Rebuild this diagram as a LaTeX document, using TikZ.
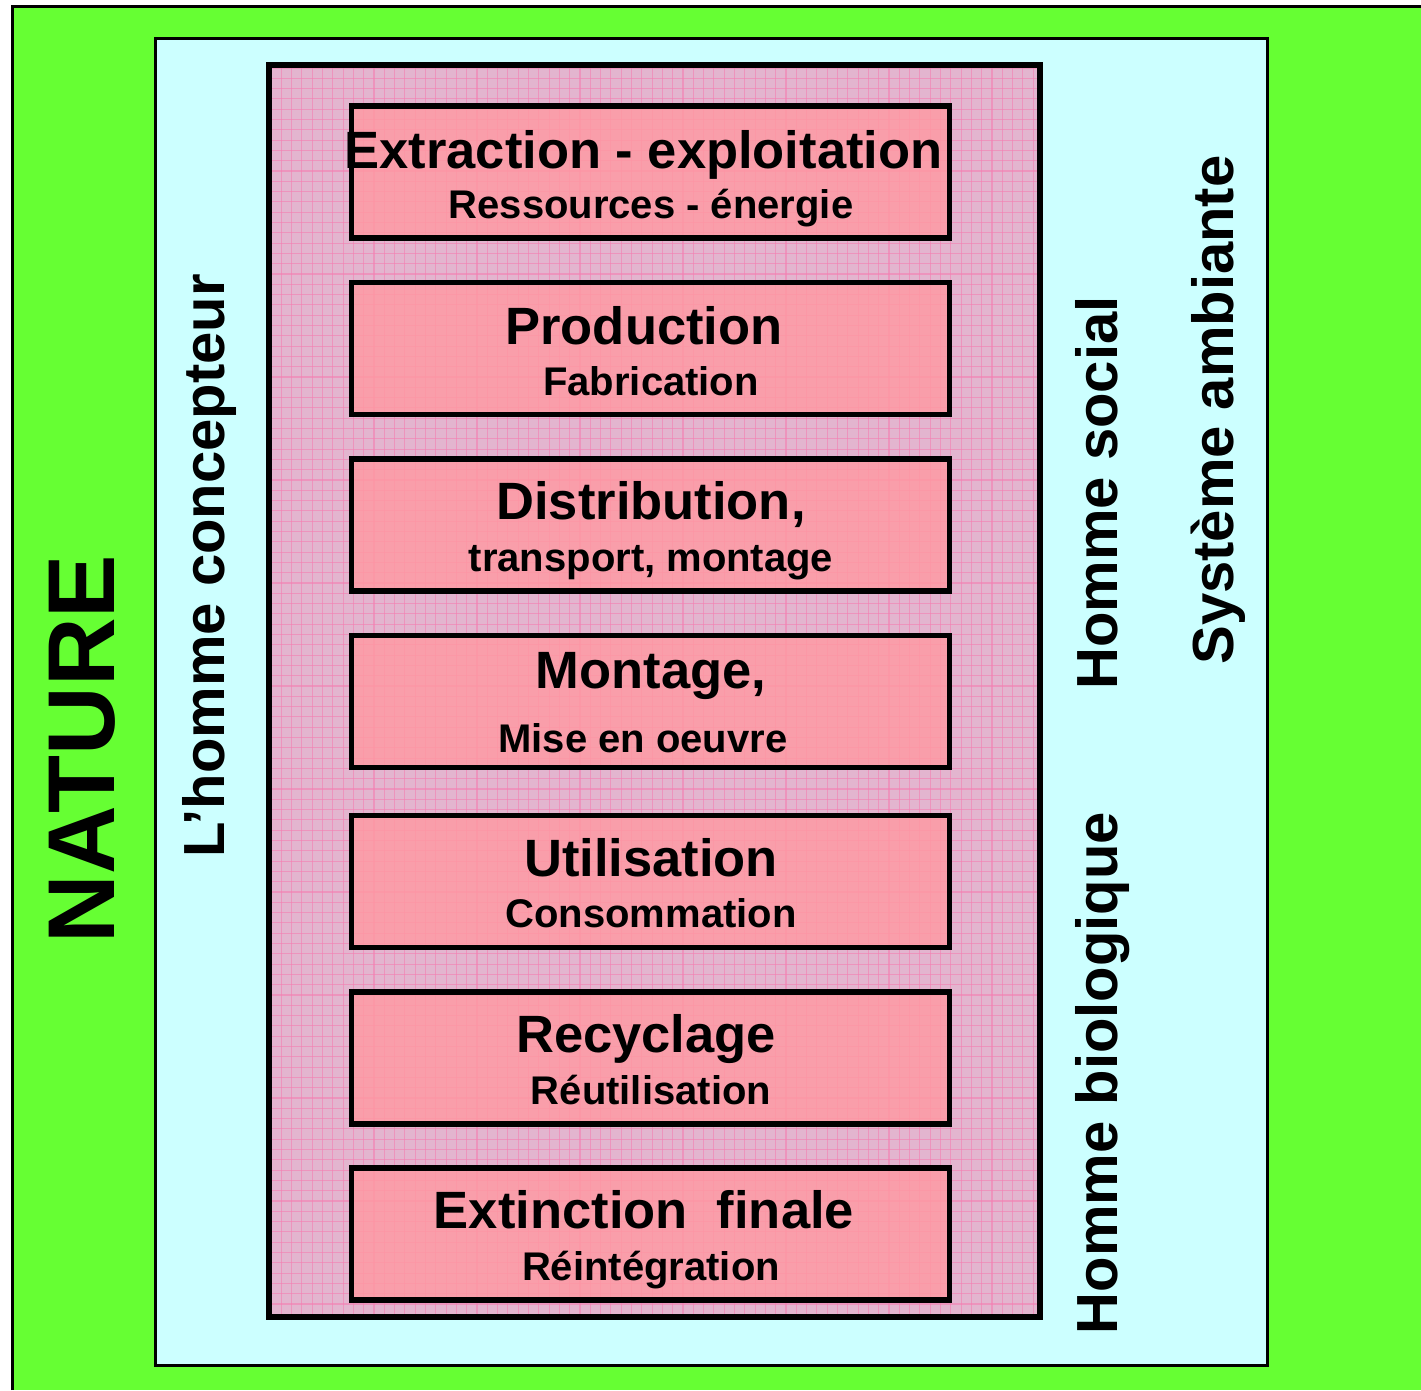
\documentclass[tikz,border=0pt]{standalone}
\usepackage{fontspec}
\setmainfont{Liberation Sans}
\definecolor{natgreen}{HTML}{66FF33}
\definecolor{ambcyan}{HTML}{CCFFFF}
\definecolor{regbase}{HTML}{E3B5CF}
\definecolor{gridpink}{HTML}{F57FB2}
\definecolor{boxpink}{HTML}{FF99A1}
\tikzset{
  gridline/.style={draw=gridpink, line width=1.1pt, opacity=0.6},
  stagebox/.style={draw=black, line width=5.5pt, fill=boxpink, fill opacity=0.8,
    minimum width=598pt, minimum height=132pt, inner sep=0pt, rectangle},
  maintxt/.style={anchor=base, inner sep=0pt, font=\fontsize{52.5}{56}\selectfont\bfseries},
  subtxt/.style={anchor=base, inner sep=0pt, font=\fontsize{40}{44}\selectfont\bfseries},
  sidetxt/.style={anchor=base, inner sep=0pt, rotate=90, font=\fontsize{58}{62}\selectfont\bfseries},
  bigtxt/.style={anchor=base, inner sep=0pt, rotate=90, font=\fontsize{95}{99}\selectfont\bfseries}
}
\begin{document}
\begin{tikzpicture}[x=1pt,y=-1pt]
\useasboundingbox (0,0) rectangle (1421,1390);
\fill[white] (0,0) rectangle (1421,1390);
% nature
\fill[natgreen] (12,6) rectangle (1421,1390);
\draw[line width=3pt] (12,1390) -- (12,6) -- (1421,6);
% ambient system
\draw[fill=ambcyan, line width=3pt] (155,38) rectangle (1267,1365);
% pink region
\fill[regbase] (269,65) rectangle (1040,1317);
\begin{scope}
  \clip (269,65) rectangle (1040,1317);
  \foreach \i in {0,...,75} \draw[gridline] ({271+\i*10.3},60) -- ++(0,1265);
  \foreach \j in {0,...,123} \draw[gridline] (265,{68+\j*10.3}) -- ++(780,0);
\end{scope}
\draw[line width=6pt] (269,65) rectangle (1040,1317);
% stage boxes
\node[stagebox] (b1) at (650.5,172) {};
\node[stagebox] (b2) at (650.5,348.5) {};
\node[stagebox] (b3) at (650.5,525) {};
\node[stagebox] (b4) at (650.5,701.5) {};
\node[stagebox] (b5) at (650.5,881.5) {};
\node[stagebox] (b6) at (650.5,1058) {};
\node[stagebox] (b7) at (650.5,1234) {};
% texts in boxes
\node[maintxt] (t1a) at (643.5,168) {Extraction - exploitation};
\node[subtxt]  (t1b) at (651,218) {Ressources - énergie};
\node[maintxt] (t2a) at (644,344) {Production};
\node[subtxt]  (t2b) at (651,395) {Fabrication};
\node[maintxt] (t3a) at (651,519) {Distribution,};
\node[subtxt]  (t3b) at (651,571) {transport, montage};
\node[maintxt] (t4a) at (651,688) {Montage,};
\node[subtxt]  (t4b) at (643,752) {Mise en oeuvre};
\node[maintxt] (t5a) at (651,876) {Utilisation};
\node[subtxt]  (t5b) at (651,927) {Consommation};
\node[maintxt] (t6a) at (646,1052) {Recyclage};
\node[subtxt]  (t6b) at (651,1104) {Réutilisation};
\node[maintxt] (t7a) at (644,1228) {Extinction\ \ finale};
\node[subtxt]  (t7b) at (651,1280) {Réintégration};
% side texts
\node[bigtxt]  (nat) at (114,749) {NATURE};
\node[sidetxt] (conc) at (224,566) {L’homme concepteur};
\node[sidetxt] (soc) at (1117,493) {Homme social};
\node[sidetxt] (bio) at (1117,1073) {Homme biologique};
\node[sidetxt] (amb) at (1233,410) {Système ambiante};
\end{tikzpicture}
\end{document}
